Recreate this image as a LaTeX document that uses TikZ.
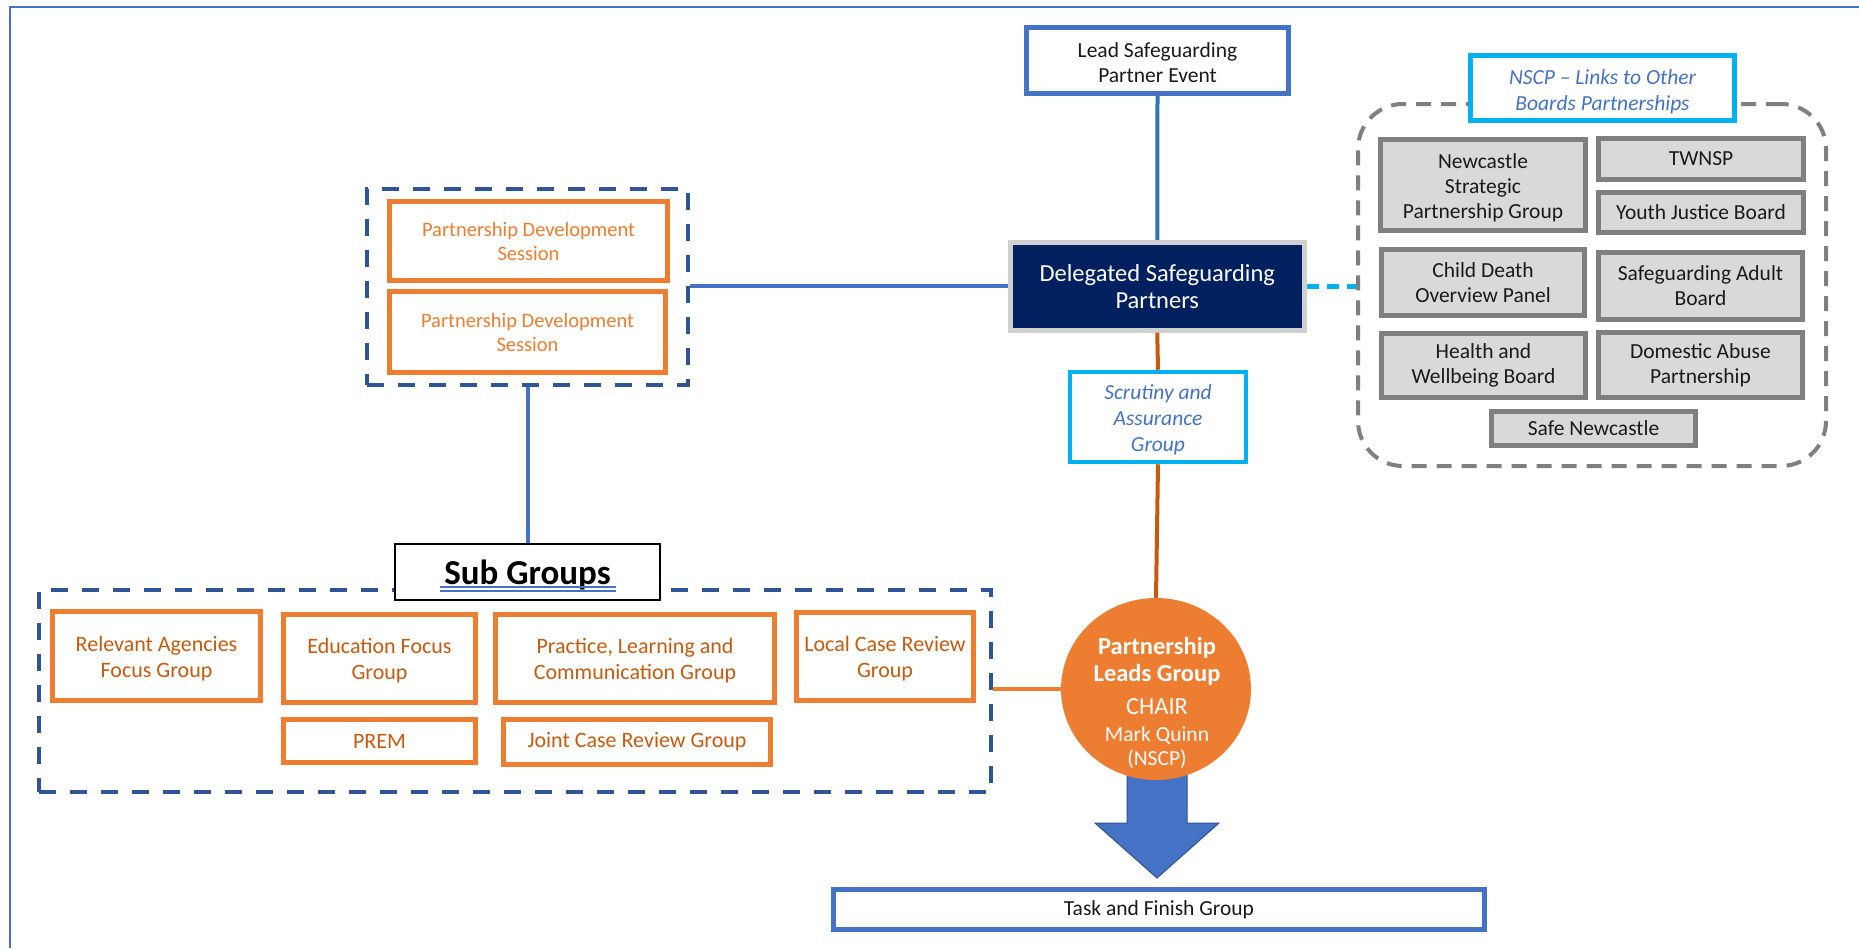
\documentclass[tikz,border=0pt]{standalone}
\usepackage{fontspec}
\setmainfont{Carlito}
\usetikzlibrary{shapes.geometric,calc}
\definecolor{frameblue}{HTML}{4472C4}
\definecolor{navy}{HTML}{002060}
\definecolor{leadblue}{HTML}{2E75B6}
\definecolor{cyanb}{HTML}{00B0F0}
\definecolor{grayb}{HTML}{7F7F7F}
\definecolor{grayf}{HTML}{D9D9D9}
\definecolor{dashnavy}{HTML}{2F5597}
\definecolor{orangeb}{HTML}{ED7D31}
\definecolor{orangedk}{HTML}{C55A11}
\definecolor{arrowedge}{HTML}{2F528F}
\definecolor{dspedge}{HTML}{D0D0D0}
\definecolor{textdk}{HTML}{1A1A1A}
\newcommand{\tdn}[1]{\rule{0pt}{#1}}
\tikzset{
  basebox/.style={inner sep=0pt, align=center, font=\fontsize{21.5bp}{25bp}\selectfont, text=textdk},
  bluebox/.style={basebox, draw=frameblue, line width=5bp, fill=white},
  graybox/.style={basebox, draw=grayb, line width=5bp, fill=grayf},
  cyanbox/.style={basebox, draw=cyanb, line width=4.5bp, fill=white, text=frameblue,
     font=\fontsize{21.5bp}{26bp}\selectfont\itshape},
  pdsbox/.style={basebox, draw=orangeb, line width=5bp, fill=white, text=orangeb,
     font=\fontsize{20.5bp}{24bp}\selectfont},
  subbox/.style={basebox, draw=orangeb, line width=5bp, fill=white, text=orangedk,
     font=\fontsize{22bp}{26bp}\selectfont},
  navydash/.style={draw=dashnavy, line width=4bp, dash pattern=on 17bp off 14bp, inner sep=0pt},
  graydash/.style={draw=grayb, line width=4bp, dash pattern=on 15bp off 10bp, rounded corners=45bp, inner sep=0pt},
  blueline/.style={draw=frameblue, line width=4bp},
  brownline/.style={draw=orangedk, line width=4bp},
}
\begin{document}
\begin{tikzpicture}[x=1bp,y=-1bp]
\useasboundingbox (0,0) rectangle (1859,948);
\fill[white] (0,0) rectangle (1859,948);
\draw[frameblue, line width=2bp] (10,948) -- (10,7) -- (1859,7);

% group containers
\node[navydash, minimum width=321bp, minimum height=196bp] (pdsgroup) at (527.5,287) {};
\node[navydash, minimum width=952bp, minimum height=202bp] (subgroup) at (515,691) {};
\node[graydash, minimum width=468bp, minimum height=362bp] (links) at (1592,285) {};

% top column
\node[bluebox, minimum width=262bp, minimum height=66bp] (lead) at (1157.5,60.5) {\tdn{19.5bp}Lead Safeguarding\\Partner Event};
\node[basebox, fill=navy, draw=dspedge, line width=5bp, text=white,
      font=\fontsize{24.5bp}{27bp}\selectfont, minimum width=294bp, minimum height=88bp] (dsp) at (1157.25,286.25) {Delegated Safeguarding\\Partners};
\node[cyanbox, minimum width=176bp, minimum height=90bp] (scrutiny) at (1158,417) {\tdn{20bp}Scrutiny and\\Assurance\\Group};

% links boxes
\node[cyanbox, minimum width=264bp, minimum height=65bp] (nscp) at (1602.5,88) {\tdn{22.5bp}NSCP -- Links to Other\\Boards Partnerships};
\node[graybox, minimum width=205bp, minimum height=91bp] (nspg) at (1483,185) {\tdn{20.5bp}Newcastle\\Strategic\\Partnership Group};
\node[graybox, minimum width=205bp, minimum height=41bp] (twnsp) at (1701,159) {TWNSP};
\node[graybox, minimum width=205bp, minimum height=40bp] (yjb) at (1701,212.5) {Youth Justice Board};
\node[graybox, minimum width=203bp, minimum height=66bp] (cdop) at (1483,282.5) {Child Death\\Overview Panel};
\node[graybox, minimum width=204bp, minimum height=67bp] (sab) at (1700.5,286) {Safeguarding Adult\\Board};
\node[graybox, minimum width=204bp, minimum height=64bp] (hwb) at (1483.5,365.5) {Health and\\Wellbeing Board};
\node[graybox, minimum width=204bp, minimum height=65bp] (dap) at (1700.5,365) {Domestic Abuse\\Partnership};
\node[graybox, minimum width=204bp, minimum height=34bp] (safe) at (1593.5,428.5) {Safe Newcastle};

% partnership development sessions
\node[pdsbox, minimum width=278bp, minimum height=79bp] (pds1) at (528.5,241) {Partnership Development\\Session};
\node[pdsbox, minimum width=276bp, minimum height=81bp] (pds2) at (527.5,332) {Partnership Development\\Session};

% sub groups
\node[basebox, draw=black, line width=2bp, fill=white, text=black,
      font=\fontsize{35bp}{38bp}\selectfont\bfseries, minimum width=265bp, minimum height=56bp] (subtitle) at (527.5,572) {\tdn{30.5bp}Sub Groups};
\draw[frameblue, line width=1.3bp] ($(subtitle.center)+(-88,15)$) -- ($(subtitle.center)+(88,15)$);
\draw[frameblue, line width=1.3bp] ($(subtitle.center)+(-88,19)$) -- ($(subtitle.center)+(88,19)$);

\node[subbox, minimum width=208bp, minimum height=89bp] (rafg) at (156.5,656) {\tdn{20bp}Relevant Agencies\\Focus Group};
\node[subbox, minimum width=192bp, minimum height=88bp] (efg) at (379.5,658.5) {\tdn{20bp}Education Focus\\Group};
\node[subbox, minimum width=279bp, minimum height=88bp] (plcg) at (635,658.5) {\tdn{20bp}Practice, Learning and\\Communication Group};
\node[subbox, minimum width=177bp, minimum height=88bp] (lcrg) at (885,656.5) {\tdn{20bp}Local Case Review\\Group};
\node[subbox, minimum width=192bp, minimum height=43bp] (prem) at (379.5,741) {PREM};
\node[subbox, minimum width=267bp, minimum height=45bp] (jcrg) at (637,742) {Joint Case Review Group};

% task and finish
\node[bluebox, minimum width=651bp, minimum height=40bp] (task) at (1159,909.5) {Task and Finish Group};

% connectors
\draw[leadblue, line width=4bp] (lead.south) -- (dsp.north);
\draw[blueline] (dsp.west) -- (dsp.west -| pdsgroup.east);
\draw[cyanb, line width=4.5bp, dash pattern=on 12bp off 8bp] (dsp.east) -- (dsp.east -| links.west);
\draw[brownline] (dsp.south) -- (scrutiny.north);
\draw[blueline] (pdsgroup.south) -- (subtitle.north);

% big arrow to task group
\coordinate (tip) at ($(task.north)+(-2,-9)$);
\filldraw[fill=frameblue, draw=arrowedge, line width=1bp]
  (tip) -- ++(-62,-55) -- ++(32,0) -- ++(0,-55) -- ++(60,0) -- ++(0,55) -- ++(32,0) -- cycle;

% partnership leads group
\node[ellipse, fill=orangeb, inner sep=0pt, minimum width=190bp, minimum height=182bp] (plg) at (1156,689) {};
\draw[brownline] (scrutiny.south) -- (plg.north);
\draw[orangeb, line width=3.5bp] (plg.west) -- (plg.west -| subgroup.east);
\node[inner sep=0pt, align=center, text=white, font=\fontsize{24.5bp}{27bp}\selectfont] (plgtext) at (1157,703)
  {\textbf{Partnership}\\\textbf{Leads Group}\\[6bp]CHAIR\\{\fontsize{21.5bp}{24bp}\selectfont Mark Quinn}\\[-3bp]{\fontsize{21.5bp}{24bp}\selectfont (NSCP)}};
\end{tikzpicture}
\end{document}
